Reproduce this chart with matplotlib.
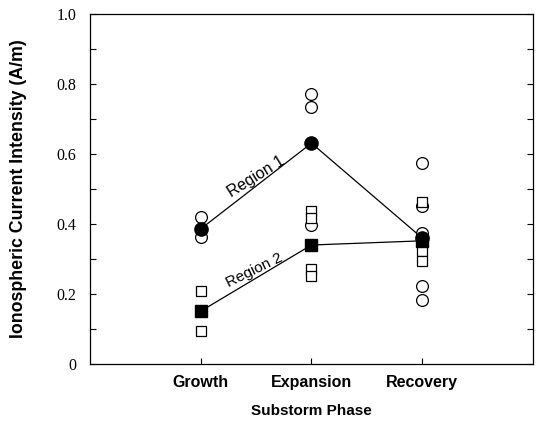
import matplotlib.pyplot as plt

phases = ["Growth", "Expansion", "Recovery"]
phase_x = [1, 2, 3]

# Mean intensities (filled markers, joined by lines)
region1_mean = [0.386, 0.631, 0.36]
region2_mean = [0.151, 0.340, 0.352]

# Individual events, Region 1 (open circles)
r1_growth = [0.42, 0.363]
r1_expansion = [0.771, 0.734, 0.397]
r1_recovery = [0.573, 0.452, 0.375, 0.223, 0.183]

# Individual events, Region 2 (open squares)
r2_growth = [0.209, 0.094]
r2_expansion = [0.437, 0.417, 0.272, 0.252]
r2_recovery = [0.463, 0.322, 0.295]

fig = plt.figure(figsize=(5.41, 4.22), dpi=100)
ax = fig.add_axes([0.1664, 0.1374, 0.8186, 0.8294])

for x, vals in zip(phase_x, [r1_growth, r1_expansion, r1_recovery]):
    ax.plot([x] * len(vals), vals, "o", ms=8.5, mfc="white", mec="black",
            mew=0.9, ls="none", zorder=3)
for x, vals in zip(phase_x, [r2_growth, r2_expansion, r2_recovery]):
    ax.plot([x] * len(vals), vals, "s", ms=7.2, mfc="white", mec="black",
            mew=0.9, ls="none", zorder=3)

ax.plot(phase_x, region1_mean, "-", color="black", lw=0.9, zorder=2)
ax.plot(phase_x, region1_mean, "o", ms=9.5, color="black", ls="none", zorder=4)
ax.plot(phase_x, region2_mean, "-", color="black", lw=0.9, zorder=2)
ax.plot(phase_x, region2_mean, "s", ms=8, color="black", ls="none", zorder=4)

ax.text(1.5, 0.535, "Region 1", rotation=32, ha="center", va="center",
        fontsize=11.5, family="Liberation Sans")
ax.text(1.48, 0.268, "Region 2", rotation=26, ha="center", va="center",
        fontsize=11, family="Liberation Sans")

ax.set_xlim(0, 4)
ax.set_ylim(0, 1.0)
ax.set_xticks(phase_x)
ax.set_xticklabels(phases, family="Liberation Sans", fontweight="bold",
                   fontsize=11.5)
ax.set_yticks([0, 0.2, 0.4, 0.6, 0.8, 1.0])
ax.set_yticklabels(["0", "0.2", "0.4", "0.6", "0.8", "1.0"],
                   family="Liberation Serif", fontsize=11.5)
ax.set_yticks([0.1, 0.3, 0.5, 0.7, 0.9], minor=True)
ax.tick_params(axis="both", which="both", direction="in", length=4, width=0.8)
ax.tick_params(axis="y", which="both", right=True)
ax.tick_params(axis="x", pad=8)
ax.tick_params(axis="y", pad=10)

ax.set_xlabel("Substorm Phase", family="Liberation Sans", fontweight="bold",
              fontsize=11, labelpad=10)
ax.set_ylabel("Ionospheric Current Intensity (A/m)", family="Liberation Sans",
              fontweight="bold", fontsize=12.8, labelpad=21)

for s in ax.spines.values():
    s.set_linewidth(0.9)

fig.savefig("out.png", dpi=100)
